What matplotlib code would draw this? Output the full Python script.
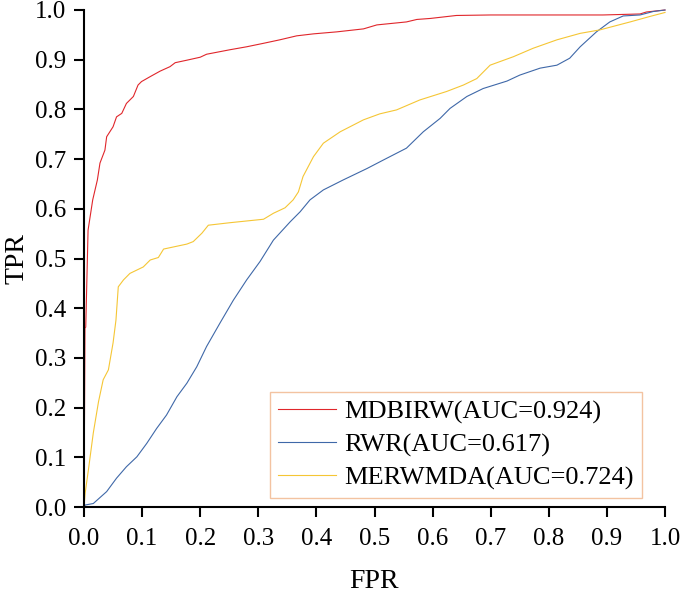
import matplotlib
matplotlib.use("Agg")
import matplotlib.pyplot as plt

plt.rcParams['font.family'] = ['Liberation Serif', 'DejaVu Serif']

# MDBIRW
fpr_mdbirw = [0.0, 0.0017, 0.003, 0.007, 0.015, 0.023, 0.0275, 0.036, 0.039, 0.050, 0.056, 0.065,
              0.073, 0.085, 0.093, 0.099, 0.114, 0.131, 0.148, 0.157, 0.177, 0.200, 0.211,
              0.251, 0.280, 0.309, 0.337, 0.366, 0.395, 0.435, 0.481, 0.504, 0.555, 0.573,
              0.596, 0.641, 0.70, 0.893, 0.957, 0.968, 1.0]
tpr_mdbirw = [0.0, 0.36, 0.362, 0.557, 0.618, 0.658, 0.692, 0.718, 0.745, 0.765, 0.785, 0.792,
              0.812, 0.826, 0.849, 0.856, 0.866, 0.877, 0.886, 0.894, 0.899, 0.905, 0.911,
              0.920, 0.926, 0.933, 0.940, 0.948, 0.952, 0.956, 0.962, 0.970, 0.976, 0.981,
              0.983, 0.989, 0.990, 0.990, 0.992, 0.996, 1.0]

# RWR
fpr_rwr = [0.0, 0.002, 0.016, 0.039, 0.056, 0.073, 0.091, 0.108, 0.125, 0.142, 0.160, 0.177,
           0.194, 0.211, 0.234, 0.257, 0.280, 0.303, 0.326, 0.355, 0.372, 0.389, 0.412, 0.446,
           0.487, 0.515, 0.555, 0.584, 0.613, 0.630, 0.659, 0.687, 0.728, 0.750, 0.785,
           0.814, 0.836, 0.854, 0.882, 0.905, 0.928, 0.957, 0.980, 1.0]
tpr_rwr = [0.0, 0.004, 0.007, 0.031, 0.058, 0.081, 0.101, 0.128, 0.158, 0.185, 0.222, 0.249,
           0.282, 0.323, 0.370, 0.416, 0.457, 0.494, 0.537, 0.574, 0.594, 0.618, 0.638, 0.658,
           0.681, 0.698, 0.722, 0.755, 0.782, 0.802, 0.826, 0.842, 0.857, 0.869, 0.883,
           0.889, 0.903, 0.926, 0.956, 0.976, 0.988, 0.990, 0.997, 1.0]

# MERWMDA
fpr_merwmda = [0.0, 0.002, 0.0075, 0.016, 0.025, 0.033, 0.042, 0.050, 0.055, 0.059, 0.068,
               0.079, 0.102, 0.114, 0.128, 0.137, 0.177, 0.188, 0.203, 0.214, 0.251, 0.309,
               0.326, 0.346, 0.360, 0.369, 0.377, 0.395, 0.412, 0.441, 0.481, 0.509, 0.538,
               0.578, 0.624, 0.653, 0.676, 0.699, 0.739, 0.773, 0.814, 0.854, 0.888, 0.940,
               0.974, 1.0]
tpr_merwmda = [0.0, 0.028, 0.074, 0.149, 0.212, 0.256, 0.276, 0.330, 0.376, 0.443, 0.457,
               0.470, 0.483, 0.497, 0.502, 0.519, 0.529, 0.534, 0.551, 0.567, 0.572, 0.579,
               0.591, 0.602, 0.618, 0.634, 0.665, 0.705, 0.732, 0.755, 0.779, 0.791, 0.799,
               0.819, 0.836, 0.849, 0.862, 0.889, 0.906, 0.923, 0.940, 0.953, 0.960, 0.976,
               0.987, 0.995]

labels = ["MDBIRW(AUC=0.924)", "RWR(AUC=0.617)", "MERWMDA(AUC=0.724)"]
ticks = [0.0, 0.1, 0.2, 0.3, 0.4, 0.5, 0.6, 0.7, 0.8, 0.9, 1.0]

fig = plt.figure(figsize=(6.81, 5.93), dpi=100)
ax = fig.add_axes([84/681, 1-507/593, 581/681, 497/593])

ax.plot(fpr_mdbirw, tpr_mdbirw, color="#e0262b", lw=0.8, label=labels[0], clip_on=False)
ax.plot(fpr_rwr, tpr_rwr, color="#3f68a8", lw=0.8, label=labels[1], clip_on=False)
ax.plot(fpr_merwmda, tpr_merwmda, color="#f5c635", lw=0.8, label=labels[2], clip_on=False)

ax.set_xlim(0, 1)
ax.set_ylim(0, 1)
ax.set_xticks(ticks)
ax.set_yticks(ticks)
ax.set_xticklabels([f"{t:.1f}" for t in ticks])
ax.set_yticklabels([f"{t:.1f}" for t in ticks])
ax.tick_params(direction="out", length=7, width=1.5, labelsize=18)
ax.tick_params(axis="x", pad=8)
ax.tick_params(axis="y", pad=6)
for s in ["top", "right"]:
    ax.spines[s].set_visible(False)
for s in ["left", "bottom"]:
    ax.spines[s].set_linewidth(1.5)

ax.set_xlabel("FPR", fontsize=20, labelpad=14)
ax.set_ylabel("TPR", fontsize=20, labelpad=4)

leg = ax.legend(loc="lower right", bbox_to_anchor=(0.960, 0.018), fontsize=19,
                frameon=True, fancybox=False, edgecolor="#f0b48a", handlelength=2.2,
                handletextpad=0.3, borderpad=0.3, labelspacing=0.35, borderaxespad=0)
leg.get_frame().set_linewidth(1.0)

fig.savefig("out.png", dpi=100)
